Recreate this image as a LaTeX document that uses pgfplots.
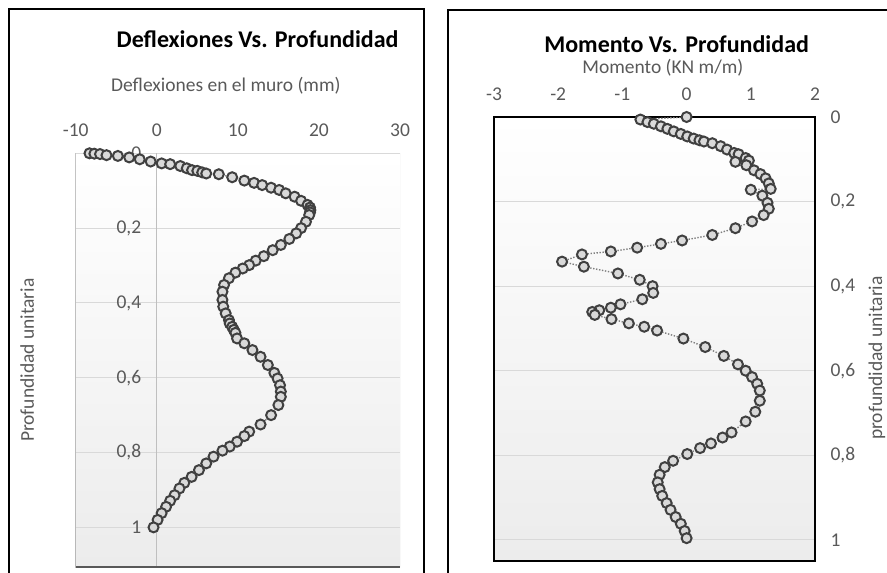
\documentclass[border=0pt]{standalone}
\usepackage{fontspec}
\setmainfont{Carlito}
\usepackage{pgfplots}
\pgfplotsset{compat=1.18}

\definecolor{txt}{HTML}{595959}
\definecolor{gridc}{HTML}{D9D9D9}
\definecolor{axc}{HTML}{BFBFBF}
\definecolor{markd}{HTML}{404040}
\definecolor{markf}{HTML}{D9D9D9}
\definecolor{linec}{HTML}{7F7F7F}
\definecolor{bgbot}{HTML}{ECECEC}

\newcommand{\lblfont}{\fontsize{19.5bp}{22bp}\selectfont}
\newcommand{\ttlfont}{\bfseries\fontsize{24bp}{28bp}\selectfont}

\pgfplotsset{
  perfil/.style={
    scale only axis, anchor=south west,
    y dir=reverse, ymin=0,
    ytick={0,0.2,0.4,0.6,0.8,1},
    ymajorgrids, major grid style={color=gridc, line width=1bp},
    major tick length=0pt,
    xticklabel pos=upper,
    tick label style={font=\lblfont, text=txt},
    xticklabel style={yshift=13bp},
    title style={font=\ttlfont, text=black},
    /pgf/number format/assume math mode=true,
    /pgf/number format/use comma,
    axis background/.style={shade, top color=white, middle color=white, bottom color=bgbot},
  },
  serie/.style={color=linec, line width=1.4bp, dash pattern=on 1.4bp off 1.6bp,
    mark=*, mark size=5bp,
    mark options={solid, draw=markd, fill=markf, line width=2bp}},
}

\begin{document}
\begin{tikzpicture}
\useasboundingbox (0,0) rectangle (887bp,573bp);
\clip (0,0) rectangle (887bp,573bp);

% marcos de los dos graficos
\draw[black, line width=2bp] (9bp,-10bp) rectangle (423.5bp,564bp);
\draw[black, line width=2bp] (448.3bp,-10bp) rectangle (900bp,563bp);

% deflexiones
\begin{axis}[perfil,
    at={(75.7bp,6bp)}, width=324.3bp, height=413.7bp,
    xmin=-10, xmax=30, ymax=1.106,
    xtick={-10,0,10,20,30},
    axis line style={draw=none},
    yticklabel style={anchor=east, xshift=69bp},
    title={Deflexiones Vs. Profundidad},
    title style={at={(axis description cs:0.561,1.262)}, anchor=center},
    xlabel={Deflexiones en el muro (mm)},
    every axis x label/.style={at={(axis description cs:0.463,1.163)}, anchor=center, font=\lblfont, text=txt},
    ylabel={Profundidad unitaria},
    every axis y label/.style={at={(axis description cs:-0.150,0.5)}, rotate=90, anchor=center, font=\lblfont, text=txt},
  ]
  \draw[color=gridc, line width=1bp] (axis description cs:1,0) -- (axis description cs:1,1);
  \draw[color=axc, line width=1.2bp] (axis cs:0,0) -- (axis cs:0,1.106);
  \draw[color=txt, line width=1.3bp] (axis description cs:0,1) -- (axis description cs:0,0) -- (axis description cs:1,0);
  \addplot[serie] coordinates {
    (-8.3,0.000) (-7.7,0.001) (-7.0,0.002) (-6.2,0.005) (-4.8,0.007)
    (-3.4,0.011) (-2.1,0.016) (-0.75,0.022) (0.6,0.027) (1.65,0.029)
    (2.9,0.034) (3.7,0.040) (4.35,0.045) (5.0,0.047) (5.6,0.051)
    (6.1,0.054) (7.65,0.056) (9.3,0.064) (10.8,0.073) (12.0,0.079)
    (13.0,0.085) (14.1,0.092) (15.1,0.098) (15.9,0.107) (17.0,0.116)
    (17.8,0.127) (18.6,0.138) (18.9,0.145) (18.95,0.152) (18.9,0.158)
    (18.8,0.165) (18.4,0.183) (17.8,0.200) (17.2,0.214) (16.35,0.229)
    (15.3,0.245) (14.3,0.259) (13.2,0.275) (12.2,0.287) (11.4,0.299)
    (10.6,0.308) (9.7,0.319) (8.9,0.334) (8.3,0.352) (8.1,0.370)
    (8.1,0.392) (8.2,0.410) (8.5,0.428) (8.9,0.446) (9.0,0.455)
    (9.3,0.464) (9.5,0.472) (9.7,0.480) (9.9,0.495) (10.8,0.508)
    (11.8,0.526) (12.8,0.544) (13.7,0.566) (14.5,0.587) (14.9,0.602)
    (15.2,0.620) (15.3,0.637) (15.3,0.651) (15.0,0.673) (14.1,0.700)
    (12.8,0.725) (11.4,0.744) (10.8,0.756) (9.9,0.771) (9.0,0.784)
    (8.1,0.795) (7.0,0.811) (6.1,0.829) (5.2,0.847) (4.3,0.865)
    (3.4,0.881) (2.8,0.896) (2.2,0.914) (1.65,0.929) (1.15,0.945)
    (0.6,0.962) (0.1,0.980) (-0.4,1.000)
  };
\end{axis}

% momento
\begin{axis}[perfil,
    at={(494bp,12bp)}, width=321bp, height=444bp,
    xmin=-3, xmax=2, ymax=1.05,
    xtick={-3,-2,-1,0,1,2},
    axis line style={black, line width=1.2bp},
    yticklabel pos=right,
    yticklabel style={anchor=west, xshift=12bp},
    title={Momento Vs. Profundidad},
    title style={at={(axis description cs:0.569,1.150)}, anchor=center},
    xlabel={Momento (KN m/m)},
    every axis x label/.style={at={(axis description cs:0.526,1.110)}, anchor=center, font=\lblfont, text=txt},
    ylabel={profundidad unitaria},
    every axis y label/.style={at={(axis description cs:1.193,0.457)}, rotate=90, anchor=center, font=\lblfont, text=txt},
  ]
  \addplot[serie] coordinates {
    (0,0.0) (-0.72,0.006) (-0.61,0.012) (-0.51,0.016) (-0.40,0.022)
    (-0.30,0.028) (-0.20,0.034) (-0.09,0.040) (0.01,0.046) (0.11,0.051)
    (0.20,0.055) (0.27,0.058) (0.40,0.062) (0.53,0.069) (0.63,0.077)
    (0.74,0.085) (0.81,0.088) (0.92,0.097) (0.97,0.103) (0.76,0.106)
    (0.93,0.114) (1.05,0.126) (1.15,0.135) (1.23,0.145) (1.28,0.157)
    (1.31,0.170) (1.00,0.172) (1.18,0.186) (1.26,0.203) (1.28,0.217)
    (1.20,0.232) (1.02,0.247) (0.76,0.263) (0.40,0.279) (-0.07,0.292)
    (-0.40,0.300) (-0.77,0.309) (-1.18,0.318) (-1.63,0.325) (-1.94,0.342)
    (-1.60,0.354) (-1.07,0.370) (-0.73,0.385) (-0.53,0.400) (-0.52,0.416)
    (-0.69,0.431) (-1.03,0.443) (-1.18,0.451) (-1.36,0.457) (-1.47,0.461)
    (-1.43,0.468) (-1.17,0.478) (-0.90,0.488) (-0.66,0.496) (-0.46,0.505)
    (-0.05,0.524) (0.29,0.544) (0.58,0.565) (0.80,0.585) (0.92,0.600)
    (1.02,0.615) (1.10,0.631) (1.14,0.647) (1.14,0.671) (1.07,0.697)
    (0.92,0.720) (0.70,0.746) (0.56,0.758) (0.38,0.772) (0.21,0.783)
    (0.01,0.797) (-0.21,0.813) (-0.34,0.828) (-0.42,0.846) (-0.45,0.864)
    (-0.42,0.880) (-0.38,0.896) (-0.31,0.913) (-0.25,0.929) (-0.17,0.946)
    (-0.09,0.962) (-0.03,0.979) (0.0,0.996)
  };
\end{axis}
\end{tikzpicture}
\end{document}
